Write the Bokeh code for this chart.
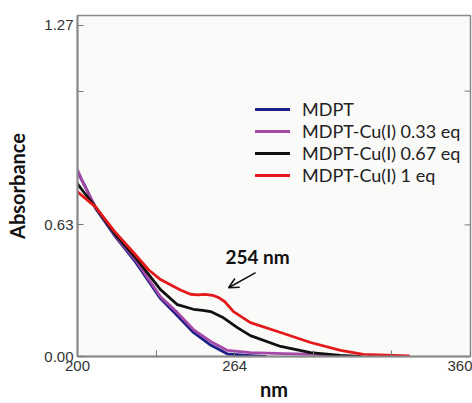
from bokeh.plotting import figure
from bokeh.models import (Range1d, FixedTicker, Label, Arrow, OpenHead,
                          Legend, LegendItem)
from bokeh.embed import file_html
from bokeh.resources import INLINE

# ---- data ----
blue_nm = [200, 203.3, 207.3, 215.0, 223.6, 233.8, 240.7, 247.2, 254.2, 261.1, 270.4, 276.5]
blue_A = [0.883, 0.81, 0.71, 0.58, 0.453, 0.277, 0.195, 0.115, 0.055, 0.012, 0.004, 0.0]

purple_nm = [200, 202.7, 207.3, 215.0, 223.6, 233.8, 240.7, 247.2, 254.2, 261.1, 270.4, 283.9, 297.7, 304.2]
purple_A = [0.893, 0.82, 0.716, 0.585, 0.463, 0.286, 0.210, 0.129, 0.072, 0.029, 0.019, 0.014, 0.010, 0.004]

black_nm = [200, 203.0, 207.3, 215.0, 223.6, 233.8, 240.7, 247.2, 251.0, 254.2, 259.0, 265.1, 270.4, 282.7, 294.9, 307.1, 315.2]
black_A = [0.826, 0.78, 0.716, 0.59, 0.473, 0.320, 0.248, 0.226, 0.221, 0.215, 0.188, 0.138, 0.100, 0.048, 0.019, 0.005, 0.0]

red_nm = [200, 207.3, 215.0, 223.6, 228.9, 233.8, 241.9, 246.0, 249.0, 252.0, 255.0, 257.5, 260.0, 263.5, 270.4, 282.7, 294.9, 307.1, 316.4, 334.8]
red_A = [0.788, 0.716, 0.60, 0.487, 0.415, 0.368, 0.318, 0.298, 0.295, 0.297, 0.293, 0.282, 0.262, 0.215, 0.162, 0.115, 0.067, 0.029, 0.010, 0.003]

series_names = ["MDPT", "MDPT-Cu(I) 0.33 eq", "MDPT-Cu(I) 0.67 eq", "MDPT-Cu(I) 1 eq"]
series_colors = ["#1c1f86", "#a548a8", "#111111", "#e3191c"]

x_ticks = [200, 232, 264, 296, 328, 360]
x_tick_labels = {200: "200", 232: "", 264: "264", 296: "", 328: "", 360: "360"}
y_ticks = [0, 0.63, 1.27, 1.585]
y_tick_labels = {0: "0.00", 0.63: "0.63", 1.27: "", 1.585: "1.27"}
right_ticks = [0.63, 1.27]

peak_label = "254 nm"

x_min, x_max = 200, 360
y_min, y_max = 0, 1.632

tick_font = "Liberation Sans"

# ---- figure ----
p = figure(width=472, height=403, output_backend="svg", toolbar_location=None,
           x_range=Range1d(x_min, x_max), y_range=Range1d(y_min, y_max),
           min_border_left=77, min_border_right=2, min_border_top=15, min_border_bottom=46,
           background_fill_color="#fafaf8", border_fill_color="white")
p.grid.visible = False
p.outline_line_color = "#8a8a8a"
p.outline_line_width = 1.5


def style_labels(ax):
    ax.major_label_text_font = tick_font
    ax.major_label_text_font_size = "15px"
    ax.major_label_text_color = "#333333"
    ax.major_label_standoff = 4
    ax.minor_tick_line_color = None


xa = p.xaxis[0]
xa.ticker = FixedTicker(ticks=x_ticks)
xa.major_label_overrides = x_tick_labels
xa.major_tick_in = 6
xa.major_tick_out = 0
xa.major_tick_line_color = "#777777"
xa.axis_line_color = "#8a8a8a"
xa.axis_line_width = 2
style_labels(xa)
xa.axis_label = "nm"
xa.axis_label_text_font = "Lato"
xa.axis_label_text_font_style = "bold"
xa.axis_label_text_font_size = "20px"
xa.axis_label_text_color = "#111111"
xa.axis_label_standoff = 3

ya = p.yaxis[0]
ya.ticker = FixedTicker(ticks=y_ticks)
ya.major_label_overrides = y_tick_labels
ya.major_tick_in = 6
ya.major_tick_out = 0
ya.major_tick_line_color = "#777777"
ya.axis_line_color = "#8a8a8a"
ya.axis_line_width = 2
style_labels(ya)
ya.axis_label = "Absorbance"
ya.axis_label_text_font = "Lato"
ya.axis_label_text_font_style = "bold"
ya.axis_label_text_font_size = "20px"
ya.axis_label_text_color = "#111111"
ya.axis_label_standoff = 12

# short inward tick marks on the right frame edge (2.4 nm ~ 6 px long)
p.segment(x0=[x_max - 2.4] * len(right_ticks), y0=right_ticks,
          x1=[x_max] * len(right_ticks), y1=right_ticks,
          line_color="#777777", line_width=1)

renderers = []
for xs, ys, c in [(blue_nm, blue_A, series_colors[0]), (purple_nm, purple_A, series_colors[1]),
                  (black_nm, black_A, series_colors[2]), (red_nm, red_A, series_colors[3])]:
    r = p.line(xs, ys, line_color=c, line_width=2.8, line_join="round", line_cap="round")
    renderers.append(r)

legend = Legend(items=[LegendItem(label=n, renderers=[r]) for n, r in zip(series_names, renderers)],
                location=(178, 170), padding=0, margin=0, spacing=0,
                glyph_width=35, glyph_height=18, label_height=18, label_standoff=12,
                label_text_font="Lato", label_text_font_size="18px", label_text_color="#222222",
                border_line_color=None, background_fill_alpha=0)
p.add_layout(legend)

p.add_layout(Label(x=273.3, y=0.477, text=peak_label, text_align="center", text_baseline="middle",
                   text_font="Lato", text_font_style="bold", text_font_size="19px",
                   text_color="#111111"))
p.add_layout(Arrow(x_start=272.5, y_start=0.401, x_end=261.5, y_end=0.329,
                   line_color="#111111", line_width=1.5,
                   end=OpenHead(size=10, line_color="#111111", line_width=1.5)))

open("out.html", "w").write(file_html(p, INLINE))
